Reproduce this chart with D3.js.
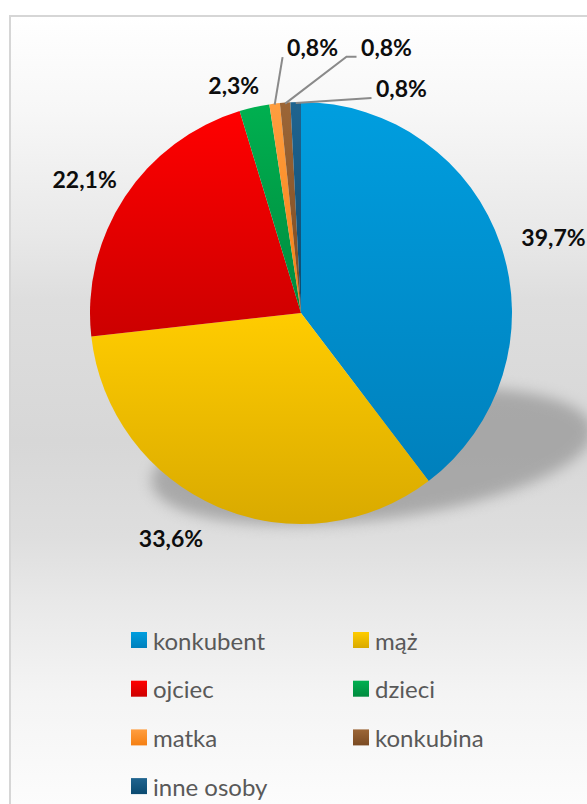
<!DOCTYPE html>
<html><head><meta charset="utf-8">
<script src="https://cdn.jsdelivr.net/npm/d3@7"></script>
<style>html,body{margin:0;padding:0;background:#fff;overflow:hidden}</style>
</head><body>
<script>
// ---- data ----
const categories = ["konkubent","mąż","ojciec","dzieci","matka","konkubina","inne osoby"];
const values = [39.7, 33.6, 22.1, 2.3, 0.8, 0.8, 0.8];
const labels = ["39,7%","33,6%","22,1%","2,3%","0,8%","0,8%","0,8%"];
const colorsTop = ["#009EDF","#FFCC00","#FF0000","#00B050","#FF9E40","#9C6637","#20648F"];
const colorsBottom = ["#0080BC","#D9AA00","#CC0000","#008A3E","#F57F12","#7A4A22","#0B4A70"];

// ---- layout ----
const W = 587, H = 804;
const cx = 301, cy = 313, R = 211;
const labelNudge = [[7,7],[-28,-13],[0,8],[-10,25],[44,-9],[105,-8],[107,34]];
const leaderFor = [false,false,false,false,true,true,true];

const svg = d3.select("body").append("svg").attr("width",W).attr("height",H);
const defs = svg.append("defs");

const bg = defs.append("linearGradient").attr("id","bg").attr("gradientUnits","userSpaceOnUse")
  .attr("x1",0).attr("y1",16).attr("x2",0).attr("y2",804);
[[0,"#ffffff"],[0.12,"#f7f7f7"],[0.28,"#e8e8e8"],[0.36,"#dedede"],[0.54,"#d7d7d7"],[0.66,"#dedede"],[0.74,"#e8e8e8"],[0.86,"#f4f4f4"],[1,"#fcfcfc"]]
  .forEach(([o,c])=>bg.append("stop").attr("offset",o).attr("stop-color",c));

categories.forEach((c,i)=>{
  const g = defs.append("linearGradient").attr("id","g"+i).attr("x1",0).attr("y1",0).attr("x2",0).attr("y2",1);
  g.append("stop").attr("offset",0).attr("stop-color",colorsTop[i]);
  g.append("stop").attr("offset",1).attr("stop-color",colorsBottom[i]);
});

const blur = defs.append("filter").attr("id","blur").attr("x","-20%").attr("y","-50%").attr("width","140%").attr("height","200%");
blur.append("feGaussianBlur").attr("stdDeviation",7);

// frame
svg.append("rect").attr("x",10).attr("y",16).attr("width",620).attr("height",820)
  .attr("fill","url(#bg)").attr("stroke","#d6d6d6").attr("stroke-width",2);

// shadow
svg.append("ellipse").attr("cx",372).attr("cy",456).attr("rx",222).attr("ry",64)
  .attr("transform","rotate(-7,372,456)")
  .attr("fill","#9c9c9c").attr("opacity",0.8).attr("filter","url(#blur)");

const pie = d3.pie().sort(null).value(d=>d)(values);
const arc = d3.arc().innerRadius(0).outerRadius(R);

const gp = svg.append("g").attr("transform",`translate(${cx},${cy})`);
gp.selectAll("path").data(pie).join("path")
  .attr("d",arc).attr("fill",(d,i)=>`url(#g${i})`);

// labels
const lblR = R + 48;
pie.forEach((d,i)=>{
  const a = (d.startAngle + d.endAngle)/2;
  const bx = cx + Math.sin(a)*lblR, by = cy - Math.cos(a)*lblR;
  const lx = bx + labelNudge[i][0], ly = by + labelNudge[i][1];
  if (leaderFor[i]) {
    const sx = cx + Math.sin(a)*(R-1), sy = cy - Math.cos(a)*(R-1);
    const ex = lx - 30, ey = ly + 10;
    const pts = [[sx,sy]];
    if (Math.abs(ex-sx) > 20 && Math.abs(ey-sy) > 20) pts.push([ex-10,ey]);
    pts.push([ex,ey]);
    svg.append("path").attr("d",d3.line()(pts)).attr("fill","none")
      .attr("stroke","#8a8a8a").attr("stroke-width",2);
  }
  svg.append("text").attr("x",lx).attr("y",ly).attr("text-anchor","middle")
    .attr("dominant-baseline","central")
    .attr("font-family","Lato, 'Open Sans', sans-serif").attr("font-weight","bold")
    .attr("font-size",23).attr("fill","#0d0d0d").text(labels[i]);
});

// legend
const legX = [131, 353], legY0 = 640, legStep = 48.7;
const lg = svg.append("g");
categories.forEach((c,i)=>{
  const col = i % 2, row = Math.floor(i/2);
  const x = legX[col], y = legY0 + row*legStep;
  lg.append("rect").attr("x",x).attr("y",y-8).attr("width",16).attr("height",16).attr("fill",`url(#g${i})`);
  lg.append("text").attr("x",x+22).attr("y",y).attr("dominant-baseline","central")
    .attr("font-family","Lato, 'Open Sans', sans-serif").attr("font-size",24)
    .attr("fill","#595959").text(c);
});
</script>
</body></html>
